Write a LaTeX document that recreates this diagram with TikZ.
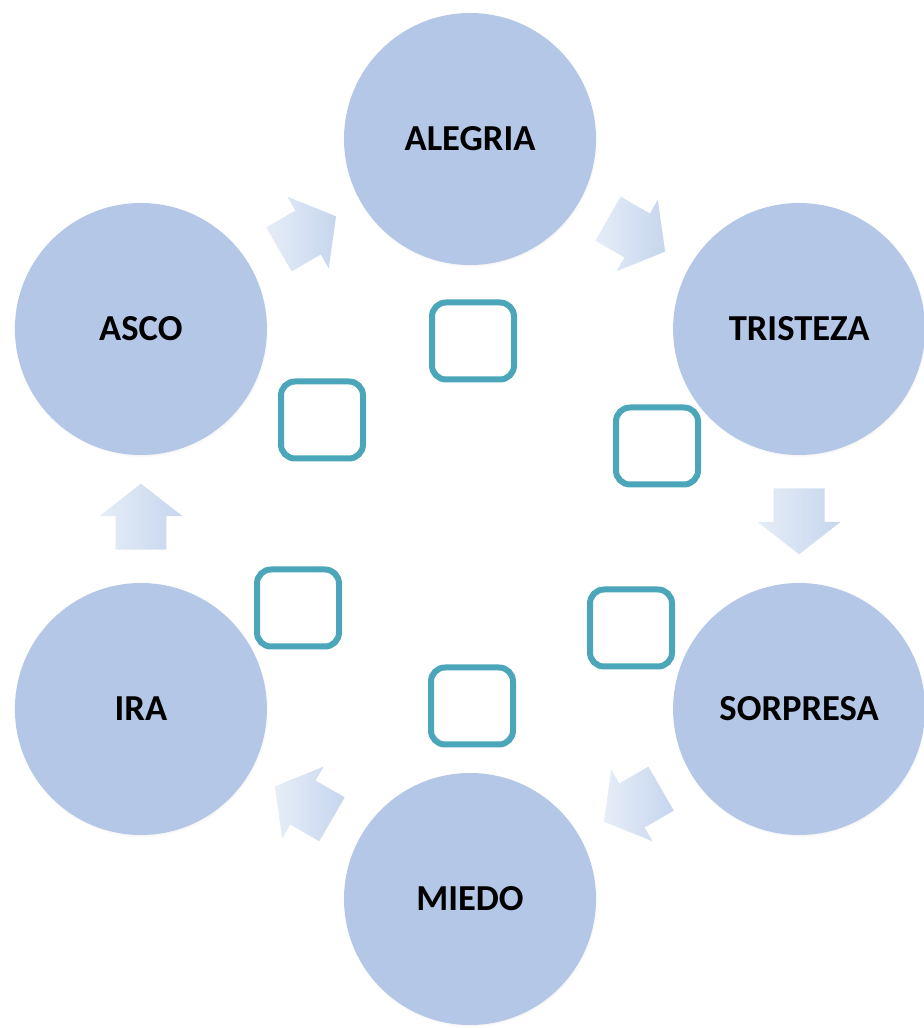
\documentclass[tikz,border=0pt]{standalone}
\usepackage{fontspec}
\setmainfont{Carlito}
\usetikzlibrary{shapes,shadows,calc}
\definecolor{circblue}{RGB}{180,199,231}
\definecolor{boxteal}{RGB}{75,166,186}
\definecolor{arrowlight}{RGB}{230,237,247}
\definecolor{arrowdark}{RGB}{198,214,238}

\begin{document}
\begin{tikzpicture}[x=0.5pt,y=0.5pt]
    \tikzstyle{every node}+=[inner sep=0pt]
    \tikzstyle{emocion}=[circle, fill=circblue, minimum size=126pt,
        font=\fontsize{18.3}{22}\selectfont\bfseries,
        circular drop shadow={shadow xshift=0.4pt, shadow yshift=-0.9pt, shadow scale=1.005, opacity=0.45}]
    \tikzstyle{casilla}=[draw=boxteal, line width=3pt, rounded corners=7pt,
        minimum width=41pt, minimum height=38.5pt, fill=white]
    \tikzstyle{flecha}=[single arrow, minimum height=33pt, inner ysep=12.5pt,
        single arrow head extend=8pt, single arrow tip angle=104,
        left color=arrowlight, right color=arrowdark]
    \useasboundingbox (0,0) rectangle (923,1028);
    \coordinate (centro) at (470,509);
    % emotions on a hexagon
    \foreach \nombre/\ang/\texto in {alegria/90/ALEGRIA, tristeza/30/TRISTEZA,
        sorpresa/-30/SORPRESA, miedo/-90/MIEDO, ira/-150/IRA, asco/150/ASCO}
        \node[emocion] (\nombre) at ([shift={(\ang:380)}]centro) {\texto};
    % block arrows between them
    \foreach \desde/\hasta/\ang in {asco/alegria/30, alegria/tristeza/-30,
        tristeza/sorpresa/-90, sorpresa/miedo/-150, miedo/ira/150, ira/asco/90}
        \node[flecha, rotate=\ang] (f-\desde) at ($(\desde)!0.48!(\hasta)$) {};
    % empty boxes
    \node[casilla] (c1) at (473,687) {};
    \node[casilla] (c2) at (657,582) {};
    \node[casilla] (c3) at (631,400) {};
    \node[casilla] (c4) at (472,322) {};
    \node[casilla] (c5) at (298,420) {};
    \node[casilla] (c6) at (322,608) {};
\end{tikzpicture}
\end{document}
